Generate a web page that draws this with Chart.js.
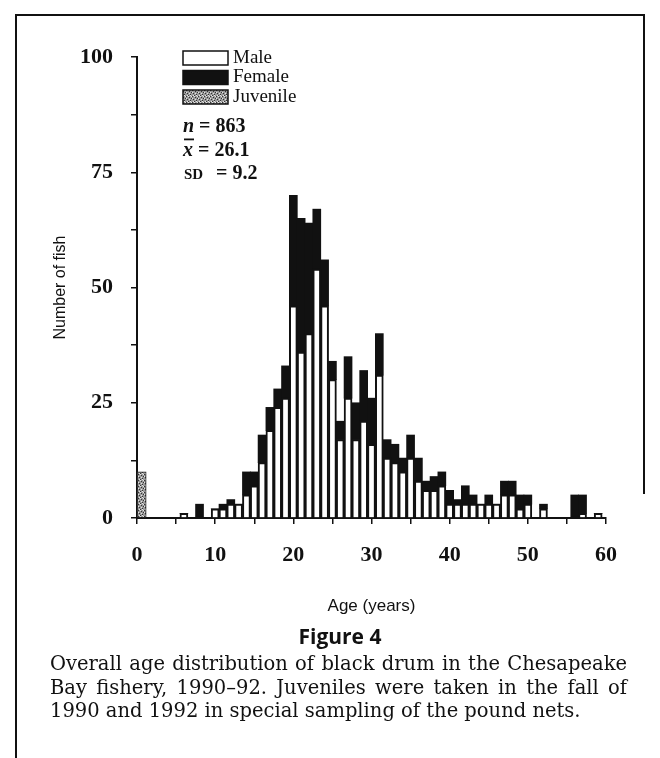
<!DOCTYPE html>
<html>
<head>
<meta charset="utf-8">
<script src="https://cdn.jsdelivr.net/npm/chart.js@4/dist/chart.umd.min.js"></script>
<style>
  html, body { margin: 0; padding: 0; background: #fff; }
  body { width: 660px; height: 758px; position: relative; overflow: hidden; }
  #frame { position: absolute; left: 15px; top: 14px; width: 628px; height: 760px;
           border-left: 2px solid #111; border-top: 2px solid #111; }
  #frameRight { position: absolute; left: 643px; top: 14px; width: 2px; height: 480px; background: #111; }
  #chart { position: absolute; left: 0; top: 0; }
  #fig { position: absolute; left: 0; width: 680px; top: 622px; text-align: center;
         font: bold 21px "Open Sans", sans-serif; color: #111; }
  #caption { position: absolute; left: 50px; top: 652px; width: 577px;
             font: 19.5px "DejaVu Serif", serif; line-height: 23.5px; color: #111; }
  #caption div { white-space: nowrap; }
  #caption .j { text-align: justify; text-align-last: justify; }
</style>
</head>
<body>
<div id="frame"></div>
<div id="frameRight"></div>
<canvas id="chart" width="660" height="758"></canvas>
<div id="fig">Figure 4</div>
<div id="caption">
  <div class="j">Overall age distribution of black drum in the Chesapeake</div>
  <div class="j">Bay fishery, 1990–92. Juveniles were taken in the fall of</div>
  <div>1990 and 1992 in special sampling of the pound nets.</div>
</div>
<script>
// ages (years); juveniles are age-0 fish caught in the fall
const ages   = [6, 8, 10, 11, 12, 13, 14, 15, 16, 17, 18, 19, 20, 21, 22, 23, 24, 25, 26, 27,
                28, 29, 30, 31, 32, 33, 34, 35, 36, 37, 38, 39, 40, 41, 42, 43, 44, 45, 46, 47,
                48, 49, 50, 52, 56, 57, 59];
const male   = [1, 0, 2, 2, 3, 3, 5, 7, 12, 19, 24, 26, 46, 36, 40, 54, 46, 30, 17, 26,
                17, 21, 16, 31, 13, 12, 10, 13, 8, 6, 6, 7, 3, 3, 3, 3, 3, 3, 3, 5,
                5, 2, 3, 2, 0, 1, 1];
const female = [0, 3, 0, 1, 1, 0, 5, 3, 6, 5, 4, 7, 24, 29, 24, 13, 10, 4, 4, 9,
                8, 11, 10, 9, 4, 4, 3, 5, 5, 2, 3, 3, 3, 1, 4, 2, 0, 2, 0, 3,
                3, 3, 2, 1, 5, 4, 0];
const juvenileAges = [0.6];
const juvenile     = [10];

const yTicks = [0, 25, 50, 75, 100];
const xTicks = [0, 10, 20, 30, 40, 50, 60];
const stats = { n: 863, mean: 26.1, sd: 9.2 };

// grey speckled fill for the juvenile bar
function speckle() {
  const c = document.createElement('canvas');
  c.width = 6; c.height = 6;
  const g = c.getContext('2d');
  g.fillStyle = '#9a9a9a';
  g.fillRect(0, 0, 6, 6);
  g.fillStyle = '#333';
  [[0,0],[3,1],[1,3],[4,4],[5,2],[2,5]].forEach(p => g.fillRect(p[0], p[1], 1, 1));
  g.fillStyle = '#e4e4e4';
  [[2,0],[5,0],[0,2],[3,3],[1,5],[4,5]].forEach(p => g.fillRect(p[0], p[1], 1, 1));
  return g.createPattern(c, 'repeat');
}
const juvFill = speckle();

const SERIF = '"Liberation Serif", "Times New Roman", serif';
const SANS = '"Liberation Sans", Arial, sans-serif';

const legendBox = {
  id: 'legendBox',
  afterDraw(chart) {
    const ctx = chart.ctx;
    const x0 = chart.chartArea.left + 46;
    ctx.save();
    ctx.textBaseline = 'middle';
    ctx.fillStyle = '#111';
    chart.data.datasets.forEach((ds, i) => {
      const y = chart.chartArea.top + 1 + i * 19.5;
      ctx.fillStyle = ds.backgroundColor;
      ctx.fillRect(x0, y - 7, 45, 14);
      ctx.lineWidth = 1.5;
      ctx.strokeStyle = '#111';
      ctx.strokeRect(x0, y - 7, 45, 14);
      ctx.fillStyle = '#111';
      ctx.font = '19px ' + SERIF;
      ctx.textAlign = 'left';
      ctx.fillText(ds.label, x0 + 50, y);
    });

    let y = chart.chartArea.top + 70;
    ctx.font = 'italic bold 20px ' + SERIF;
    ctx.fillText('n', x0, y);
    let w = ctx.measureText('n').width;
    ctx.font = 'bold 20px ' + SERIF;
    ctx.fillText(' = ' + stats.n, x0 + w, y);

    y += 23.5;
    ctx.font = 'italic bold 20px ' + SERIF;
    ctx.fillText('x', x0, y);
    w = ctx.measureText('x').width;
    ctx.fillRect(x0 + 1, y - 12, w, 1.8);
    ctx.font = 'bold 20px ' + SERIF;
    ctx.fillText(' = ' + stats.mean.toFixed(1), x0 + w, y);

    y += 23.5;
    ctx.font = 'bold 15px ' + SERIF;
    ctx.fillText('SD', x0 + 1, y + 1);
    ctx.font = 'bold 20px ' + SERIF;
    ctx.fillText('= ' + stats.sd.toFixed(1), x0 + 33, y);
    ctx.restore();
  }
};

const axisGrid = { display: true, drawOnChartArea: false, drawTicks: true, tickLength: 6, color: '#111', lineWidth: 1.5 };

new Chart(document.getElementById('chart'), {
  type: 'bar',
  data: {
    datasets: [
      {
        label: 'Male',
        data: ages.map((a, i) => ({ x: a, y: male[i] })),
        backgroundColor: '#ffffff',
        borderColor: '#111',
        borderWidth: 2,
        borderSkipped: 'start',
        barThickness: 8
      },
      {
        label: 'Female',
        data: ages.map((a, i) => ({ x: a, y: female[i] })),
        backgroundColor: '#111111',
        borderWidth: 0,
        barThickness: 8
      },
      {
        label: 'Juvenile',
        data: juvenileAges.map((a, i) => ({ x: a, y: juvenile[i] })),
        backgroundColor: juvFill,
        borderColor: '#222',
        borderWidth: 1,
        barThickness: 9
      }
    ]
  },
  options: {
    responsive: false,
    animation: false,
    devicePixelRatio: 1,
    layout: { padding: { left: 50, top: 57, right: 54, bottom: 140 } },
    plugins: { legend: { display: false }, tooltip: { enabled: false } },
    scales: {
      x: {
        type: 'linear',
        stacked: true,
        offset: false,
        min: 0, max: 60,
        grid: Object.assign({ offset: false }, axisGrid),
        border: { display: true, color: '#111', width: 2 },
        ticks: {
          stepSize: 5,
          autoSkip: false,
          maxRotation: 0,
          padding: 18,
          color: '#111',
          font: { family: SERIF, size: 22, weight: 'bold' },
          callback: v => xTicks.includes(v) ? String(v) : ''
        },
        title: {
          display: true,
          text: 'Age (years)',
          color: '#111',
          font: { family: SANS, size: 17 },
          padding: { top: 0, bottom: 1 }
        },
        afterFit: s => { s.height = 100; }
      },
      y: {
        stacked: true,
        min: 0, max: 100,
        grid: axisGrid,
        border: { display: true, color: '#111', width: 2 },
        ticks: {
          stepSize: 12.5,
          autoSkip: false,
          padding: 18,
          color: '#111',
          font: { family: SERIF, size: 22, weight: 'bold' },
          callback: v => yTicks.includes(v) ? String(v) : ''
        },
        title: {
          display: true,
          text: 'Number of fish',
          color: '#111',
          font: { family: SANS, size: 16 },
          padding: { top: 1, bottom: 0 }
        },
        afterFit: s => { s.width = 87; }
      }
    }
  },
  plugins: [legendBox]
});
</script>
</body>
</html>
